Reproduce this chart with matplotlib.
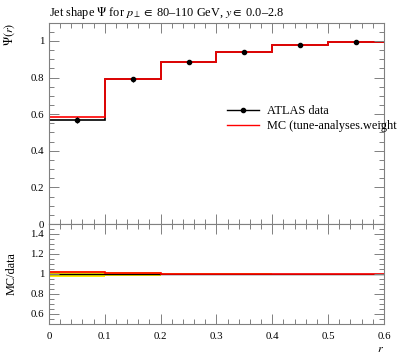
import numpy as np
import matplotlib
matplotlib.use('Agg')
import matplotlib.pyplot as plt
from matplotlib.ticker import MultipleLocator

plt.rcParams['font.family'] = ['Liberation Serif', 'DejaVu Serif']
plt.rcParams['mathtext.fontset'] = 'stix'

edges = [0.0, 0.1, 0.2, 0.3, 0.4, 0.5, 0.6]
data = [0.570, 0.790, 0.885, 0.940, 0.976, 0.996]
data_err = [0.016, 0.016, 0.010, 0.005, 0.003, 0.001]
mc = [0.582, 0.795, 0.886, 0.940, 0.976, 0.997]
xtick_labels = ['0', '0.1', '0.2', '0.3', '0.4', '0.5', '0.6']

edges = np.array(edges)
data = np.array(data)
data_err = np.array(data_err)
mc = np.array(mc)
centers = 0.5 * (edges[:-1] + edges[1:])

fig = plt.figure(figsize=(3.97, 3.58), dpi=100)
ax = fig.add_axes([0.1234, 0.3743, 0.8438, 0.5623])
rax = fig.add_axes([0.1234, 0.0950, 0.8438, 0.2793], sharex=ax)

grey = '#808080'

# main panel
ax.stairs(data, edges, color='black', lw=1.2, baseline=None)
ax.stairs(mc, edges, color='red', lw=1.2, baseline=None)
ax.errorbar(centers, data, yerr=data_err, fmt='o', color='black', ms=3, lw=0.8)
ax.set_xlim(0, 0.6)
ax.set_ylim(0, 1.1)

h_data = plt.Line2D([], [], color='black', marker='o', ms=3, lw=1)
h_mc = plt.Line2D([], [], color='red', lw=1)
ax.legend([h_data, h_mc], ['ATLAS data', 'MC (tune-analyses.weight)'],
          loc='upper left', bbox_to_anchor=(0.50, 0.645), frameon=False,
          fontsize=8.8, handlelength=2.6, handletextpad=0.6, labelspacing=0.25)

# ratio panel
rel = data_err / data
rax.fill_between(edges, np.append(1 - rel, 1 - rel[-1]), np.append(1 + rel, 1 + rel[-1]),
                 step='post', color='#ffee00', lw=0)
rax.stairs(np.ones_like(data), edges, color='black', lw=1.0, baseline=None)
rax.stairs(mc / data, edges, color='red', lw=1.2, baseline=None)

for a in (ax, rax):
    for s in a.spines.values():
        s.set_color(grey)
        s.set_linewidth(0.8)
    a.tick_params(which='both', direction='in', top=True, right=True, colors=grey,
                  labelcolor='black', labelsize=7.8, width=0.7)
    a.tick_params(which='major', length=7)
    a.tick_params(which='minor', length=3.5)
    a.xaxis.set_minor_locator(MultipleLocator(0.02))
    a.yaxis.set_minor_locator(MultipleLocator(0.05))

rax.set_xticks(edges)
rax.set_xticklabels(xtick_labels)
rax.set_xlim(0, 0.6)
rax.tick_params(axis='x', pad=6)
ax.tick_params(labelbottom=False)
ax.set_yticks([0, 0.2, 0.4, 0.6, 0.8, 1.0])
ax.set_yticklabels(['0', '0.2', '0.4', '0.6', '0.8', '1'])
rax.set_yticks([0.6, 0.8, 1.0, 1.2, 1.4])
rax.set_yticklabels(['0.6', '0.8', '1', '1.2', '1.4'])
rax.set_ylim(0.5, 1.5)
ax.set_ylim(0, 1.1)

ax.set_title(r'Jet shape $\Psi$ for $p_\perp \in$ 80–110 GeV, $y \in$ 0.0–2.8',
             loc='left', fontsize=8.8, pad=5)
ax.set_ylabel(r'$\Psi(r)$', fontsize=8.8, loc='top')
rax.set_ylabel('MC/data', fontsize=8.8)
rax.set_xlabel(r'$r$', fontsize=8.8, loc='right', labelpad=1)
ax.yaxis.set_label_coords(-0.095, 1.0)
rax.yaxis.set_label_coords(-0.095, 0.5)

plt.savefig('out.png', dpi=100)
